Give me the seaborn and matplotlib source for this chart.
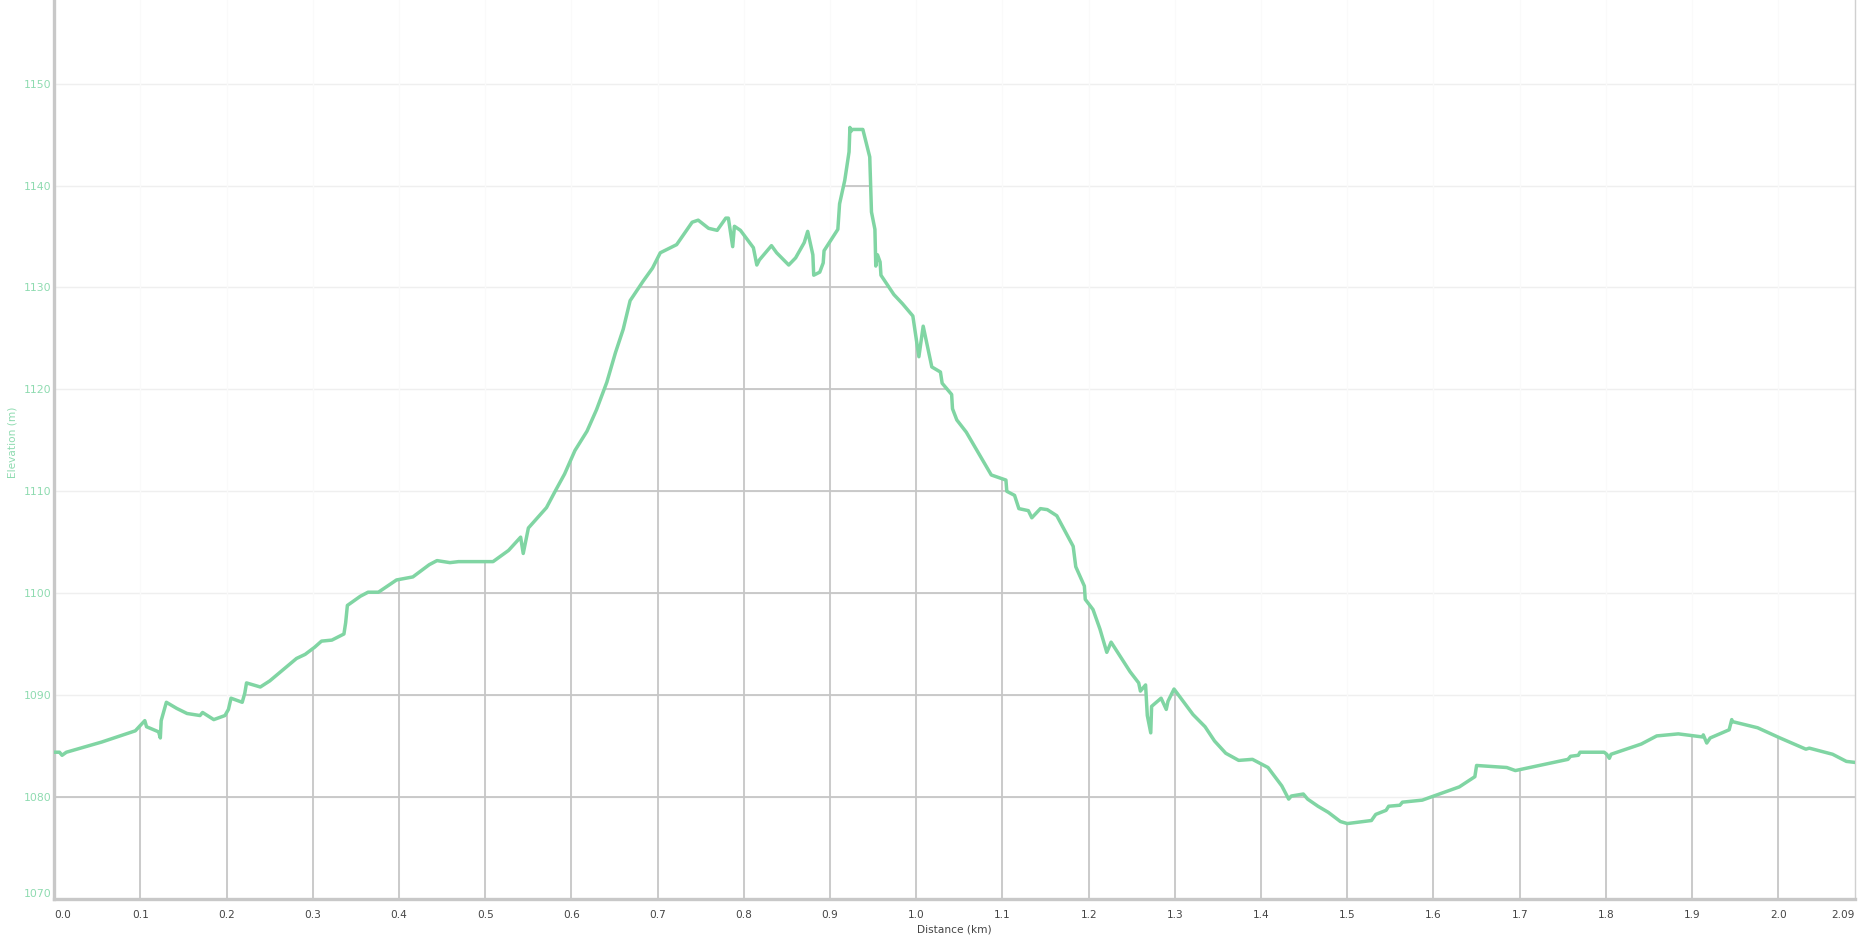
import pandas as pd
import seaborn as sns
import matplotlib.pyplot as plt

# -------------------------------
# Data: elevation profile
# -------------------------------
dist_km = [
    0.000, 0.006, 0.009, 0.014, 0.055, 0.094, 0.105, 0.107, 0.121, 0.123,
    0.124, 0.130, 0.142, 0.154, 0.169, 0.172, 0.185, 0.198, 0.202, 0.205,
    0.218, 0.221, 0.223, 0.239, 0.250, 0.281, 0.291, 0.302, 0.310, 0.322,
    0.336, 0.338, 0.340, 0.355, 0.364, 0.376, 0.397, 0.416, 0.435, 0.444,
    0.459, 0.469, 0.509, 0.527, 0.541, 0.544, 0.550, 0.571, 0.581, 0.592,
    0.604, 0.618, 0.629, 0.641, 0.651, 0.660, 0.668, 0.683, 0.694, 0.703,
    0.722, 0.740, 0.747, 0.759, 0.769, 0.779, 0.782, 0.787, 0.789, 0.796,
    0.811, 0.815, 0.818, 0.832, 0.838, 0.852, 0.860, 0.870, 0.874, 0.880,
    0.881, 0.888, 0.892, 0.893, 0.909, 0.911, 0.917, 0.922, 0.923, 0.924,
    0.926, 0.938, 0.946, 0.948, 0.952, 0.953, 0.955, 0.958, 0.959, 0.974,
    0.984, 0.996, 1.003, 1.008, 1.018, 1.028, 1.030, 1.041, 1.042, 1.047,
    1.058, 1.078, 1.087, 1.104, 1.105, 1.114, 1.119, 1.130, 1.134, 1.144,
    1.152, 1.163, 1.182, 1.185, 1.195, 1.196, 1.205, 1.213, 1.221, 1.226,
    1.248, 1.258, 1.260, 1.266, 1.268, 1.272, 1.273, 1.284, 1.290, 1.292,
    1.299, 1.321, 1.335, 1.346, 1.359, 1.374, 1.390, 1.408, 1.424, 1.432,
    1.435, 1.449, 1.454, 1.466, 1.478, 1.492, 1.500, 1.528, 1.533, 1.545,
    1.548, 1.561, 1.564, 1.587, 1.630, 1.648, 1.650, 1.685, 1.695, 1.756,
    1.759, 1.768, 1.770, 1.798, 1.801, 1.804, 1.806, 1.841, 1.859, 1.884,
    1.912, 1.913, 1.917, 1.921, 1.943, 1.946, 1.947, 1.976, 2.002, 2.032,
    2.036, 2.063, 2.079, 2.089,
]
elev_m = [
    1084.4, 1084.4, 1084.1, 1084.4, 1085.4, 1086.5, 1087.5, 1086.9, 1086.4, 1085.8,
    1087.5, 1089.3, 1088.7, 1088.2, 1088.0, 1088.3, 1087.6, 1088.0, 1088.6, 1089.7,
    1089.3, 1090.2, 1091.2, 1090.8, 1091.4, 1093.6, 1094.0, 1094.7, 1095.3, 1095.4,
    1096.0, 1097.1, 1098.8, 1099.7, 1100.1, 1100.1, 1101.3, 1101.6, 1102.8, 1103.2,
    1103.0, 1103.1, 1103.1, 1104.2, 1105.5, 1103.9, 1106.4, 1108.4, 1110.0, 1111.7,
    1114.0, 1115.9, 1118.0, 1120.7, 1123.6, 1125.9, 1128.7, 1130.6, 1131.9, 1133.4,
    1134.2, 1136.4, 1136.6, 1135.8, 1135.6, 1136.8, 1136.8, 1134.0, 1136.0, 1135.6,
    1133.9, 1132.2, 1132.7, 1134.1, 1133.4, 1132.2, 1132.9, 1134.4, 1135.5, 1133.2,
    1131.2, 1131.5, 1132.4, 1133.6, 1135.7, 1138.2, 1140.5, 1143.3, 1145.7, 1145.3,
    1145.5, 1145.5, 1142.8, 1137.4, 1135.7, 1132.1, 1133.2, 1132.5, 1131.2, 1129.3,
    1128.4, 1127.2, 1123.2, 1126.2, 1122.2, 1121.7, 1120.6, 1119.5, 1118.1, 1117.0,
    1115.8, 1112.9, 1111.6, 1111.1, 1110.0, 1109.6, 1108.3, 1108.1, 1107.4, 1108.3,
    1108.2, 1107.6, 1104.6, 1102.6, 1100.7, 1099.4, 1098.4, 1096.5, 1094.2, 1095.2,
    1092.3, 1091.2, 1090.4, 1091.0, 1088.0, 1086.3, 1088.9, 1089.7, 1088.6, 1089.4,
    1090.6, 1088.1, 1086.9, 1085.5, 1084.3, 1083.6, 1083.7, 1082.9, 1081.1, 1079.8,
    1080.1, 1080.3, 1079.8, 1079.1, 1078.5, 1077.6, 1077.4, 1077.7, 1078.3, 1078.7,
    1079.1, 1079.2, 1079.5, 1079.7, 1081.0, 1082.0, 1083.1, 1082.9, 1082.6, 1083.7,
    1084.0, 1084.1, 1084.4, 1084.4, 1084.2, 1083.8, 1084.2, 1085.2, 1086.0, 1086.2,
    1085.9, 1086.1, 1085.3, 1085.8, 1086.6, 1087.6, 1087.4, 1086.8, 1085.8, 1084.7,
    1084.8, 1084.2, 1083.5, 1083.4,
]

x_ticks = [0.0, 0.1, 0.2, 0.3, 0.4, 0.5, 0.6, 0.7, 0.8, 0.9, 1.0,
           1.1, 1.2, 1.3, 1.4, 1.5, 1.6, 1.7, 1.8, 1.9, 2.0, 2.089]
x_tick_labels = ["0.0", "0.1", "0.2", "0.3", "0.4", "0.5", "0.6", "0.7", "0.8", "0.9", "1.0",
                 "1.1", "1.2", "1.3", "1.4", "1.5", "1.6", "1.7", "1.8", "1.9", "2.0", "2.09"]
y_ticks = [1070, 1080, 1090, 1100, 1110, 1120, 1130, 1140, 1150]

df = pd.DataFrame({"dist": dist_km, "elev": elev_m})

GREEN = "#80d5a3"
TICK_GREEN = "#8edbb0"
AXIS_GREY = "#c8c8c8"

sns.set_style("white")
plt.rcParams["font.family"] = ["DejaVu Sans"]

# -------------------------------
# Figure / axes, positioned in pixels
# -------------------------------
W, H = 1861, 939
fig = plt.figure(figsize=(W / 100, H / 100), dpi=100)
x0, x1, ybot = 54.3, 1855, 899
ax = fig.add_axes([x0 / W, (H - ybot) / H, (x1 - x0) / W, ybot / H])

ax.set_xlim(0, 2.089)
ax.set_ylim(1070, 1158.2)

# faint grid everywhere
for y in y_ticks:
    ax.axhline(y, color="#efefef", lw=1.0, zorder=0)
for x in x_ticks[1:-1]:
    ax.axvline(x, color="#fafafa", lw=1.0, zorder=0)

# darker grid only under the profile
under = ax.fill_between(df["dist"], df["elev"], 1070, color="none", lw=0)
clip = under.get_paths()[0]
hl = ax.hlines(y_ticks, 0, 2.089, colors="#c6c6c6", lw=1.3, zorder=1)
vl = ax.vlines(x_ticks[1:-1], 1070, 1158, colors="#c6c6c6", lw=1.3, zorder=1)
hl.set_clip_path(clip, ax.transData)
vl.set_clip_path(clip, ax.transData)

# the profile line
sns.lineplot(data=df, x="dist", y="elev", color=GREEN, linewidth=2.5,
             ax=ax, zorder=3)

# -------------------------------
# Axes styling
# -------------------------------
for side in ["left", "bottom"]:
    ax.spines[side].set_color(AXIS_GREY)
    ax.spines[side].set_linewidth(2.4)
ax.spines["right"].set_color("#d0d0d0")
ax.spines["right"].set_linewidth(1.0)
ax.spines["top"].set_visible(False)

ax.set_xticks(x_ticks)
ax.set_xticklabels(x_tick_labels)
ax.set_yticks(y_ticks)
ax.set_yticklabels([str(v) for v in y_ticks])

ax.tick_params(axis="x", length=3, width=1, color=AXIS_GREY, pad=5,
               labelsize=7.6, labelcolor="#444444")
ax.tick_params(axis="y", length=0, pad=2, labelsize=7.8, labelcolor=TICK_GREEN)

xl = ax.get_xticklabels()
xl[0].set_ha("left")
xl[-1].set_ha("right")
ax.get_yticklabels()[0].set_va("bottom")

ax.set_xlabel("Distance (km)", fontsize=7.6, color="#444444")
ax.set_ylabel("Elevation (m)", fontsize=7.6, color=TICK_GREEN)
ax.xaxis.set_label_coords(0.5, -0.028)
ax.yaxis.set_label_coords(-0.0205, 0.508)

plt.savefig("out.png", dpi=100)
plt.close()
